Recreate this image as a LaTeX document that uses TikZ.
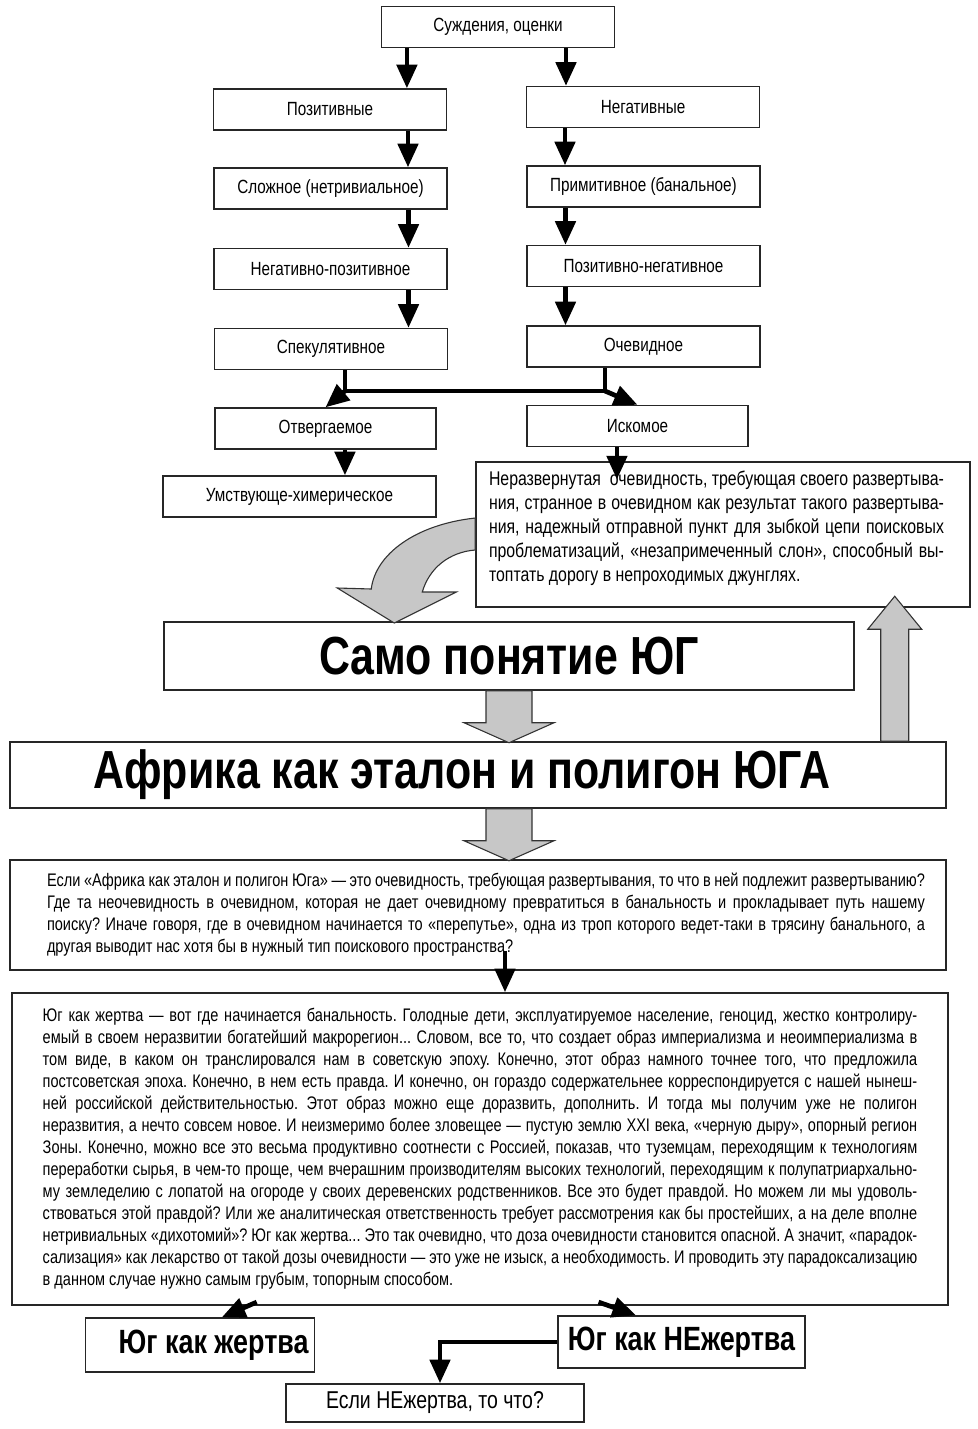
\documentclass[tikz,border=0pt]{standalone}
\usepackage{fontspec}
\setmainfont{Liberation Sans}[FakeStretch=0.8]
\usetikzlibrary{arrows.meta,positioning,calc}
\hyphenpenalty=10000
\exhyphenpenalty=10000
\frenchspacing

\begin{document}
\begin{tikzpicture}[
  x=0.55pt, y=-0.55pt,
  font=\fontsize{10.5}{12}\selectfont,
  box/.style={draw=black!85, line width=0.8pt, minimum width=128pt, minimum height=22.5pt, inner sep=2pt},
  wbox/.style={box, minimum width=121.5pt},
  para/.style={draw=black!85, line width=0.8pt, align=justify, inner sep=0pt,
               text width=264pt, minimum width=271.7pt, minimum height=79.75pt,
               font=\fontsize{10.9}{13.2}\selectfont},
  wide/.style={para, minimum width=514.8pt, font=\fontsize{10}{12.1}\selectfont},
  ttl/.style={draw=black!85, line width=0.8pt, font=\fontsize{29.5}{32}\selectfont\bfseries},
  vict/.style={draw=black!85, line width=0.8pt, font=\fontsize{18.5}{20}\selectfont\bfseries},
  blk/.style={line width=2.6pt, -{Triangle[length=13pt,width=11pt]}},
  fat/.style={draw=black!80, line width=0.6pt, fill=black!22}
]
\useasboundingbox (0,0) rectangle (978,1429);

\node[box] (sud) at (498,27) {Суждения, оценки};
\node[box] (pos) at (330,109.5) {Позитивные};
\node[box] (neg) at (643,107) {Негативные};
\node[box] (slo) at (330.5,188.5) {Сложное (нетривиальное)};
\node[box] (pri) at (643.5,186.5) {Примитивное (банальное)};
\node[box] (negpos) at (330.5,269) {Негативно-позитивное};
\node[box] (posneg) at (643.5,266) {Позитивно-негативное};
\node[box] (spe) at (331,349) {Спекулятивное};
\node[box] (och) at (643.5,346.5) {Очевидное};
\node[wbox] (otv) at (325.5,428.5) {Отвергаемое};
\node[wbox] (isk) at (637.5,426) {Искомое};
\node[box, minimum width=150pt] (umst) at (299.5,496.5) {Умствующе-химерическое};

\node[para] (par) at (723,534.5) {\leavevmode\leftskip=3.3pt\rightskip=10.5pt\relax
Неразвернутая \ очевидность, требующая своего развертыва-\linebreak
ния, странное в очевидном как результат такого развертыва-\linebreak
ния, надежный отправной пункт для зыбкой цепи поисковых\linebreak
проблематизаций, «незапримеченный слон», способный вы-\linebreak
топтать дорогу в непроходимых джунглях.\par\kern7pt};

\node[ttl, minimum width=379.5pt, minimum height=37.4pt] (samo) at (509,656) {Само понятие ЮГ};
\node[ttl, minimum width=514.8pt, minimum height=36.3pt] (afr) at (478,775) {Африка как эталон и полигон ЮГА\hspace*{17.6pt}};

\node[wide, text width=491.7pt, minimum height=60.5pt] (q) at (478,915) {%
\hspace*{8.8pt}Если «Африка как эталон и полигон Юга» — это очевидность, требующая развертывания, то что в ней подлежит развертыванию?\linebreak
\hspace*{8.8pt}Где та неочевидность в очевидном, которая не дает очевидному превратиться в банальность и прокладывает путь нашему\linebreak
\hspace*{8.8pt}поиску? Иначе говоря, где в очевидном начинается то «перепутье», одна из троп которого ведет-таки в трясину банального, а\linebreak
\hspace*{8.8pt}другая выводит нас хотя бы в нужный тип поискового пространства?};

\node[wide, text width=481pt, minimum height=171.6pt] (main) at (480,1149) {Юг как жертва — вот где начинается банальность. Голодные дети, эксплуатируемое население, геноцид, жестко контролиру-\linebreak
емый в своем неразвитии богатейший макрорегион... Словом, все то, что создает образ империализма и неоимпериализма в\linebreak
том виде, в каком он транслировался нам в советскую эпоху. Конечно, этот образ намного точнее того, что предложила\linebreak
постсоветская эпоха. Конечно, в нем есть правда. И конечно, он гораздо содержательнее корреспондируется с нашей нынеш-\linebreak
ней российской действительностью. Этот образ можно еще доразвить, дополнить. И тогда мы получим уже не полигон\linebreak
неразвития, а нечто совсем новое. И неизмеримо более зловещее — пустую землю XXI века, «черную дыру», опорный регион\linebreak
Зоны. Конечно, можно все это весьма продуктивно соотнести с Россией, показав, что туземцам, переходящим к технологиям\linebreak
переработки сырья, в чем-то проще, чем вчерашним производителям высоких технологий, переходящим к полупатриархально-\linebreak
му земледелию с лопатой на огороде у своих деревенских родственников. Все это будет правдой. Но можем ли мы удоволь-\linebreak
ствоваться этой правдой? Или же аналитическая ответственность требует рассмотрения как бы простейших, а на деле вполне\linebreak
нетривиальных «дихотомий»? Юг как жертва... Это так очевидно, что доза очевидности становится опасной. А значит, «парадок-\linebreak
сализация» как лекарство от такой дозы очевидности — это уже не изыск, а необходимость. И проводить эту парадоксализацию\linebreak
в данном случае нужно самым грубым, топорным способом.};

\node[vict, minimum width=121pt, minimum height=29.7pt] (zh) at (200,1345) {\hspace*{15pt}Юг как жертва};
\node[vict, minimum width=135.9pt, minimum height=28.6pt] (nezh) at (681.5,1342) {Юг как НЕжертва};
\node[draw=black!85, line width=0.8pt, minimum width=164pt, minimum height=20.9pt,
      font=\fontsize{13.4}{15}\selectfont] (esli) at (435,1403) {Если НЕжертва, то что?};

\draw[blk] ([xshift=14.3pt]sud.south west) -- ([xshift=14.3pt]sud.south west |- pos.north);
\draw[blk] ([xshift=-27pt]sud.south east) -- ([xshift=-27pt]sud.south east |- neg.north);
\draw[blk] ([xshift=-21.5pt]pos.south east) -- ([xshift=-21.5pt]pos.south east |- slo.north);
\draw[blk] ([xshift=21.5pt]neg.south west) -- ([xshift=21.5pt]neg.south west |- pri.north);
\draw[blk] ([xshift=-21.5pt]slo.south east) -- ([xshift=-21.5pt]slo.south east |- negpos.north);
\draw[blk] ([xshift=21.5pt]pri.south west) -- ([xshift=21.5pt]pri.south west |- posneg.north);
\draw[blk] ([xshift=-21.5pt]negpos.south east) -- ([xshift=-21.5pt]negpos.south east |- spe.north);
\draw[blk] ([xshift=21.5pt]posneg.south west) -- ([xshift=21.5pt]posneg.south west |- och.north);

\coordinate (jl) at (345,391);
\coordinate (jr) at (605,391);
\draw[line width=2.6pt, line join=round] (jl |- spe.south) -- (jl) -- (jr) -- (jr |- och.south);
\draw[blk] (jl) -- (otv.north);
\draw[blk] (jr) -- (isk.north);
\draw[blk] ([xshift=10.7pt]otv.south) -- ([xshift=10.7pt]otv.south |- umst.north);
\draw[blk] ([xshift=-11.3pt]isk.south) -- ([xshift=-11.3pt,yshift=-10pt]isk.south |- par.north);

\draw[fat, shift={(par.west)}] (0,-16.5) .. controls (-60,-10) and (-100,20) .. (-104,54.5)
  -- (-138,53.5) -- (-81,88.5) -- (-19,57.5) -- (-53,57.5)
  .. controls (-46,33.5) and (-26,17.5) .. (0,15.5) -- cycle;
\draw[fat, shift={(samo.south)}] (-23,0) -- (-23,32) -- (-45,32) -- (0,52) -- (45,32) -- (23,32) -- (23,0) -- cycle;
\draw[fat, shift={(samo.south |- afr.south)}] (-23,0) -- (-23,32) -- (-45,32) -- (0,52) -- (45,32) -- (23,32) -- (23,0) -- cycle;
\draw[fat, shift={(afr.north east)}] (-66,0) -- (-66,-112) -- (-79,-112) -- (-52,-145) -- (-25,-112) -- (-38,-112) -- (-38,0) -- cycle;

\draw[blk] ([xshift=14.85pt,yshift=11pt]q.south) -- ([xshift=14.85pt]q.south |- main.north);
\draw[blk] ([xshift=135pt,yshift=2pt]main.south west) -- ([xshift=12pt]zh.north);
\draw[blk] ([xshift=323pt,yshift=2pt]main.south west) -- ([xshift=-25pt]nezh.north);
\draw[blk] (nezh.west) -| ([xshift=2.75pt]esli.north);
\end{tikzpicture}
\end{document}
